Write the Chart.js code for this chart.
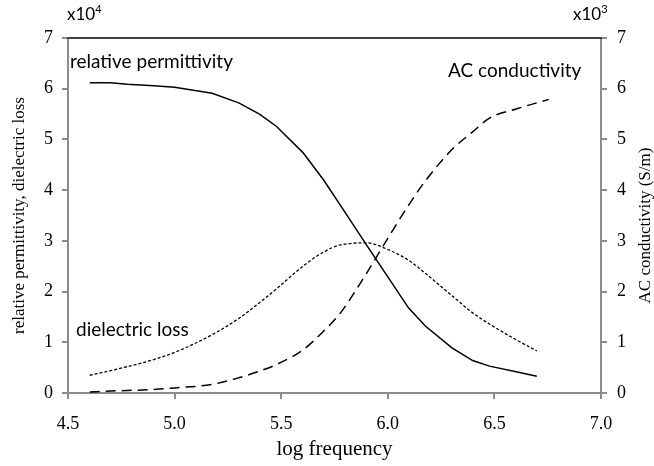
<!DOCTYPE html>
<html>
<head>
<meta charset="utf-8">
<script src="https://cdn.jsdelivr.net/npm/chart.js@4.4.0/dist/chart.umd.min.js"></script>
<style>
  html, body { margin: 0; padding: 0; background: #fff; }
  #wrap { width: 654px; height: 466px; }
</style>
</head>
<body>
<div id="wrap"><canvas id="myChart" width="654" height="466"></canvas></div>
<script>
// log frequency (x) and the three curves
const logFreq = [4.602, 4.699, 4.778, 4.903, 5.0, 5.176, 5.301, 5.398, 5.477, 5.602, 5.699,
  5.778, 5.903, 6.0, 6.097, 6.176, 6.301, 6.398, 6.477, 6.602, 6.699]
// relative permittivity, x10^4
const permittivity = [6.12, 6.12, 6.09, 6.06, 6.03, 5.91, 5.72, 5.5, 5.26, 4.74, 4.2,
  3.7, 2.9, 2.29, 1.68, 1.32, 0.89, 0.64, 0.53, 0.42, 0.33]
// dielectric loss, x10^4
const dielectricLoss = [0.35, 0.44, 0.52, 0.66, 0.8, 1.15, 1.47, 1.78, 2.05, 2.5, 2.78,
  2.92, 2.96, 2.83, 2.62, 2.36, 1.92, 1.58, 1.36, 1.05, 0.83]
// AC conductivity, x10^3 S/m (last point runs a little further right)
const condFreq = [4.602, 4.699, 4.778, 4.903, 5.0, 5.176, 5.301, 5.398, 5.477, 5.602, 5.699,
  5.778, 5.903, 6.0, 6.097, 6.176, 6.301, 6.398, 6.477, 6.602, 6.755]
const acConductivity = [0.02, 0.04, 0.05, 0.07, 0.1, 0.17, 0.3, 0.43, 0.56, 0.85, 1.22,
  1.58, 2.38, 3.05, 3.7, 4.18, 4.8, 5.15, 5.42, 5.6, 5.79]
const xTicks = [4.5, 5.0, 5.5, 6.0, 6.5, 7.0]
const yTicks = [0, 1, 2, 3, 4, 5, 6, 7]

const axisGray = '#8c8c8c'
const serif = 'Liberation Serif'

function toPoints(xs, ys) {
  return xs.map((x, i) => ({ x, y: ys[i] }))
}

// labels, top border and right axis title
const annotate = {
  id: 'annotate',
  afterDraw(chart) {
    const { ctx, chartArea } = chart
    ctx.save()
    ctx.strokeStyle = '#404040'
    ctx.lineWidth = 2
    ctx.beginPath()
    ctx.moveTo(chartArea.left - 1, chartArea.top)
    ctx.lineTo(chartArea.right + 1, chartArea.top)
    ctx.stroke()

    ctx.fillStyle = '#000'
    ctx.textBaseline = 'alphabetic'
    ctx.textAlign = 'left'
    ctx.font = '19px Lato'
    ctx.fillText('relative permittivity', 70, 68)
    ctx.fillText('AC conductivity', 448, 77)
    ctx.fillText('dielectric loss', 76, 336)

    const power = (txt, sup, x) => {
      ctx.font = '17px Lato'
      ctx.fillText(txt, x, 20)
      const w = ctx.measureText(txt).width
      ctx.font = '11px Lato'
      ctx.fillText(sup, x + w, 13)
    }
    power('x10', '4', 67)
    power('x10', '3', 573)

    ctx.font = '17px ' + serif
    ctx.textAlign = 'center'
    ctx.textBaseline = 'middle'
    ctx.translate(646, (chartArea.top + chartArea.bottom) / 2 + 10)
    ctx.rotate(-Math.PI / 2)
    ctx.fillText('AC conductivity (S/m)', 0, 0)
    ctx.restore()
  },
}

const ctx = document.getElementById('myChart').getContext('2d')
const myChart = new Chart(ctx, {
  type: 'scatter',
  data: {
    datasets: [
      {
        label: 'relative permittivity',
        data: toPoints(logFreq, permittivity),
        yAxisID: 'y',
        showLine: true,
        borderColor: '#000',
        borderWidth: 1.5,
        pointRadius: 0,
        tension: 0,
      },
      {
        label: 'dielectric loss',
        data: toPoints(logFreq, dielectricLoss),
        yAxisID: 'y',
        showLine: true,
        borderColor: '#000',
        borderWidth: 1.3,
        borderDash: [3, 2],
        pointRadius: 0,
        cubicInterpolationMode: 'monotone',
      },
      {
        label: 'AC conductivity',
        data: toPoints(condFreq, acConductivity),
        yAxisID: 'y1',
        showLine: true,
        borderColor: '#000',
        borderWidth: 1.5,
        borderDash: [10, 6],
        pointRadius: 0,
        cubicInterpolationMode: 'monotone',
      },
    ],
  },
  options: {
    responsive: false,
    animation: false,
    devicePixelRatio: 1,
    layout: { padding: { top: 38, left: 0, right: 0, bottom: 0 } },
    plugins: {
      legend: { display: false },
      tooltip: { enabled: false },
    },
    scales: {
      x: {
        type: 'linear',
        min: xTicks[0],
        max: xTicks[xTicks.length - 1],
        afterBuildTicks: (scale) => {
          scale.ticks = xTicks.map((v) => ({ value: v }))
        },
        afterFit: (scale) => {
          scale.height = 73
        },
        border: { color: axisGray, width: 2 },
        grid: { drawOnChartArea: false, color: axisGray, tickLength: 6, lineWidth: 2 },
        ticks: {
          color: '#000',
          padding: 14,
          font: { family: serif, size: 18 },
          callback: (v) => Number(v).toFixed(1),
          maxRotation: 0,
        },
        title: {
          display: true,
          text: 'log frequency',
          color: '#000',
          font: { family: serif, size: 21, lineHeight: 1 },
          padding: { top: 0, bottom: 6 },
        },
      },
      y: {
        position: 'left',
        min: 0,
        max: 7,
        afterBuildTicks: (scale) => {
          scale.ticks = yTicks.map((v) => ({ value: v }))
        },
        afterFit: (scale) => {
          scale.width = 68
        },
        border: { color: axisGray, width: 2 },
        grid: { drawOnChartArea: false, color: axisGray, tickLength: 6, lineWidth: 2 },
        ticks: {
          color: '#000',
          padding: 9,
          font: { family: serif, size: 18 },
        },
        title: {
          display: true,
          text: 'relative permittivity, dielectric loss',
          color: '#000',
          font: { family: serif, size: 17, lineHeight: 1 },
          padding: { top: 11, bottom: 0 },
        },
      },
      y1: {
        position: 'right',
        min: 0,
        max: 7,
        afterBuildTicks: (scale) => {
          scale.ticks = yTicks.map((v) => ({ value: v }))
        },
        afterFit: (scale) => {
          scale.width = 53
        },
        border: { color: axisGray, width: 2 },
        grid: { drawOnChartArea: false, color: axisGray, tickLength: 6, lineWidth: 2 },
        ticks: {
          color: '#000',
          padding: 10,
          font: { family: serif, size: 18 },
        },
      },
    },
  },
  plugins: [annotate],
})
</script>
</body>
</html>
